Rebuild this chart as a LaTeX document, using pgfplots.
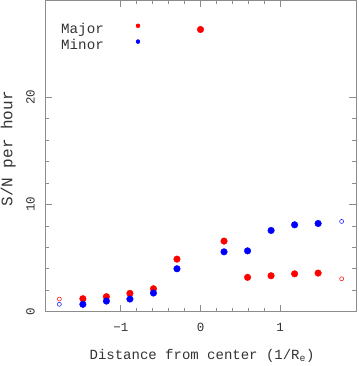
\documentclass[border=0pt]{standalone}
\usepackage{fontspec}
\setmainfont{Liberation Mono}
\usepackage{pgfplots}
\pgfplotsset{compat=1.18}
\begin{document}
\begin{tikzpicture}
\begin{axis}[
  name=ax,
  scale only axis,
  width=311pt, height=311.2pt,
  xmin=-1.95, xmax=1.95, ymin=0, ymax=29,
  xtick={-1,0,1}, xticklabels={−1,0,1},
  ytick={0,10,20}, yticklabels={0,10,20},
  minor x tick num=4, minor y tick num=4,
  xtick pos=both, ytick pos=both,
  xticklabel pos=lower, yticklabel pos=left,
  tick align=inside,
  major tick length=7pt, minor tick length=4pt,
  axis line style={black!45, line width=0.6pt},
  tick style={black!45, line width=0.6pt},
  every tick label/.append style={font=\fontsize{12.5}{14}\selectfont, text=black!80, inner sep=0pt},
  xticklabel style={anchor=north}, xticklabel shift=11pt,
  yticklabel style={rotate=90, anchor=south}, yticklabel shift=10pt,
  xlabel={Distance from center (1/R\textsubscript{e})},
  ylabel={S/N per hour},
  every axis x label/.style={at={(axis description cs:0.505,-0.153)}, anchor=base,
    font=\fontsize{14}{16}\selectfont, text=black!80},
  every axis y label/.style={at={(axis description cs:-0.1045,0.523)}, rotate=90, anchor=base,
    font=\fontsize{16}{18}\selectfont, text=black!80},
  legend plot pos=right,
  legend cell align=left,
  legend image code/.code={\path (0pt,0pt) (32pt,0pt); \path[#1, mark size=2pt] plot[only marks] coordinates {(32pt,3pt)};},
  legend style={draw=none, fill=none, at={(axis description cs:0.045,0.935)}, anchor=north west,
    font=\fontsize{14.2}{16.4}\selectfont, text=black!80, row sep=0pt, inner sep=0pt},
]
% Major (red, filled)
\addplot[only marks, mark=*, mark size=3.3pt, mark options={draw=red, fill=red}] coordinates {
  (-1.475,1.21) (-1.18,1.40) (-0.885,1.71) (-0.59,2.14) (-0.295,4.9)
  (0,26.3) (0.295,6.58) (0.59,3.2) (0.885,3.35) (1.18,3.53) (1.475,3.6)
};
\addlegendentry{Major}
% Minor (blue, filled)
\addplot[only marks, mark=*, mark size=3.3pt, mark options={draw=blue, fill=blue}] coordinates {
  (-1.475,0.69) (-1.18,0.99) (-0.885,1.18) (-0.59,1.74) (-0.295,4.0)
  (0.295,5.58) (0.59,5.67) (0.885,7.57) (1.18,8.1) (1.475,8.22)
};
\addlegendentry{Minor}
% open points
\addplot[forget plot, only marks, mark=o, mark size=2pt, mark options={draw=red, line width=0.5pt}] coordinates {
  (-1.77,1.18) (1.77,3.07)
};
\addplot[forget plot, only marks, mark=o, mark size=2pt, mark options={draw=blue, line width=0.5pt}] coordinates {
  (-1.77,0.69) (1.77,8.41)
};
\end{axis}
\pgfresetboundingbox
\path ([xshift=-45pt,yshift=-54.3pt]ax.south west) rectangle ([xshift=2pt,yshift=0.5pt]ax.north east);
\end{tikzpicture}
\end{document}
